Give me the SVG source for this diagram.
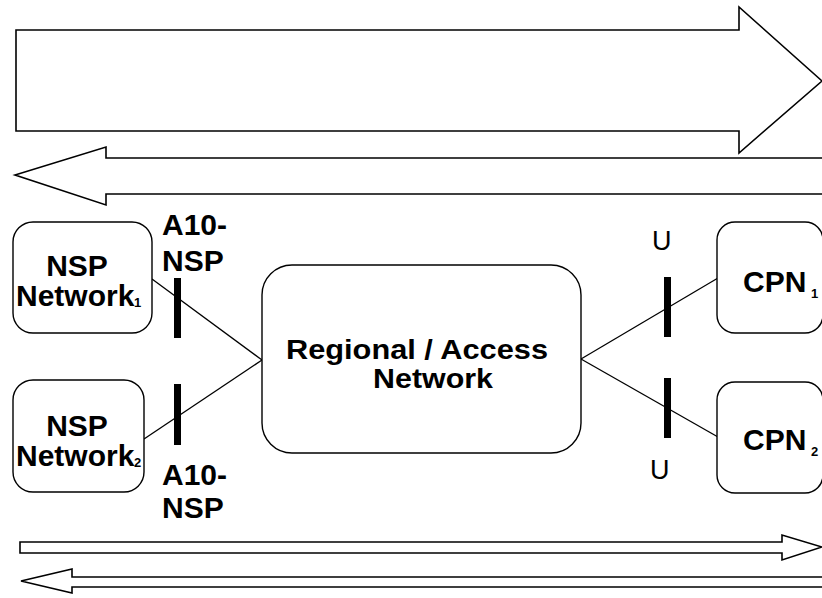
<svg xmlns="http://www.w3.org/2000/svg" width="822" height="598" viewBox="0 0 822 598">
<style>
.box{fill:#fff;stroke:#000;stroke-width:1.4}
.arrow{fill:#fff;stroke:#000;stroke-width:1.6;stroke-linejoin:miter}
.link{stroke:#000;stroke-width:1.3;fill:none}
.bar{fill:#000}
.b{font-family:"Liberation Sans",Arial,sans-serif;font-weight:bold;font-size:30px;fill:#000}
.m{font-family:"Liberation Sans",Arial,sans-serif;font-weight:bold;font-size:27px;fill:#000}
.r{font-family:"Liberation Sans",Arial,sans-serif;font-size:27px;fill:#000}
.sub{font-family:"Liberation Sans",Arial,sans-serif;font-weight:bold;font-size:13px;fill:#000}
</style>
<g id="arrows">
<polygon class="arrow" points="16,30 739,30 739,7 822,81 739,153 739,131 16,131"/>
<polygon class="arrow" points="830,158 106,158 106,147 15,175 106,205 106,194 830,194"/>
<polygon class="arrow" points="20,542 782,542 782,535 822,547 782,560 782,553 20,553"/>
<polygon class="arrow" points="830,577 72,577 72,569 21,581 72,593 72,587 830,587"/>
</g>
<g id="connectors">
<line class="link" x1="152" y1="279" x2="262" y2="360"/>
<line class="link" x1="144" y1="439" x2="262" y2="360"/>
<line class="link" x1="581" y1="359" x2="718" y2="278"/>
<line class="link" x1="581" y1="359" x2="718" y2="437"/>
<rect class="bar" x="174" y="278" width="7" height="60"/>
<rect class="bar" x="174" y="384" width="7" height="61"/>
<rect class="bar" x="664" y="277" width="7" height="60"/>
<rect class="bar" x="664" y="378" width="7" height="60"/>
</g>
<g id="nsp1">
<rect class="box" x="13" y="222" width="139" height="111" rx="20"/>
<text class="b" x="77" y="276" text-anchor="middle">NSP</text>
<text class="b" x="16" y="306">Network</text>
<text class="sub" x="134" y="307">1</text>
</g>
<g id="nsp2">
<rect class="box" x="13" y="380" width="131" height="112" rx="20"/>
<text class="b" x="77" y="436" text-anchor="middle">NSP</text>
<text class="b" x="16" y="466">Network</text>
<text class="sub" x="134" y="467">2</text>
</g>
<g id="regional">
<rect class="box" x="262" y="265" width="319" height="188" rx="30"/>
<text class="m" x="286" y="359" textLength="262" lengthAdjust="spacingAndGlyphs">Regional / Access</text>
<text class="m" x="373" y="388" textLength="120" lengthAdjust="spacingAndGlyphs">Network</text>
</g>
<g id="cpn1">
<rect class="box" x="717" y="222" width="106" height="111" rx="18"/>
<text class="b" x="743" y="292">CPN</text>
<text class="sub" x="811" y="298">1</text>
</g>
<g id="cpn2">
<rect class="box" x="717" y="382" width="106" height="111" rx="18"/>
<text class="b" x="743" y="450">CPN</text>
<text class="sub" x="811" y="456">2</text>
</g>
<g id="labels">
<text class="b" x="162" y="235">A10-</text>
<text class="b" x="162" y="271">NSP</text>
<text class="b" x="162" y="485">A10-</text>
<text class="b" x="162" y="518">NSP</text>
<text class="r" x="652" y="250">U</text>
<text class="r" x="650" y="479">U</text>
</g>
</svg>
